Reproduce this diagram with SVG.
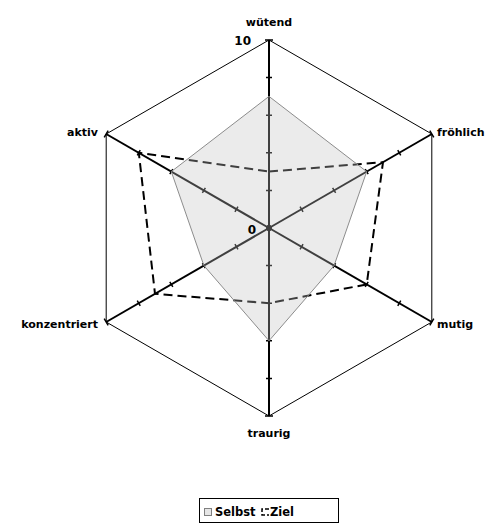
<svg xmlns="http://www.w3.org/2000/svg" width="490" height="523" viewBox="0 0 490 523">
<style>
.lbl{font-family:"DejaVu Sans","Liberation Sans",sans-serif;font-weight:bold;font-size:11px;fill:#000}
.leg{font-family:"DejaVu Sans","Liberation Sans",sans-serif;font-weight:bold;font-size:11.5px;fill:#000}
.num{font-family:"DejaVu Sans","Liberation Sans",sans-serif;font-weight:bold;font-size:12px;fill:#000}
.grid{fill:none;stroke:#000;stroke-width:1}
.ziel{fill:none;stroke:#000;stroke-width:2;stroke-dasharray:9 5}
.selbst{fill:#c2c2c2;fill-opacity:0.33;stroke:#8c8c8c;stroke-width:1}
</style>
<defs>
<g id="axisShape" stroke="#000" fill="none">
<line x1="269" y1="228" x2="269" y2="40" stroke-width="2"/>
<path d="M266,228H272M266,190.4H272M266,152.8H272M266,115.2H272M266,77.6H272M265,40H273" stroke-width="1.5"/>
</g>
</defs>
<rect width="490" height="523" fill="#fff"/>
<g id="grid">
<polygon class="grid" points="269,40 431.8,134 431.8,322 269,416 106.2,322 106.2,134"/>
</g>
<g id="connectors">
<g id="axes">
<use href="#axisShape"/>
<use href="#axisShape" transform="rotate(60 269 228)"/>
<use href="#axisShape" transform="rotate(120 269 228)"/>
<use href="#axisShape" transform="rotate(180 269 228)"/>
<use href="#axisShape" transform="rotate(240 269 228)"/>
<use href="#axisShape" transform="rotate(300 269 228)"/>
</g>
<g id="series-ziel">
<polygon class="ziel" points="269,171.6 383,162.2 366.7,284.4 269,303.2 155,293.8 138.8,152.8"/>
</g>
<g id="series-selbst">
<polygon class="selbst" points="269,96.4 366.7,171.6 334.1,265.6 269,340.8 203.9,265.6 171.3,171.6"/>
</g>
</g>
<g id="node-wuetend"><text class="lbl" x="269" y="26" text-anchor="middle">wütend</text></g>
<g id="node-froehlich"><text class="lbl" x="437" y="136">fröhlich</text></g>
<g id="node-mutig"><text class="lbl" x="437" y="328">mutig</text></g>
<g id="node-traurig"><text class="lbl" x="269" y="437" text-anchor="middle">traurig</text></g>
<g id="node-konzentriert"><text class="lbl" x="98" y="328" text-anchor="end">konzentriert</text></g>
<g id="node-aktiv"><text class="lbl" x="98" y="136" text-anchor="end">aktiv</text></g>
<g id="scale">
<text class="num" x="251" y="45" text-anchor="end">10</text>
<text class="num" x="256" y="234" text-anchor="end">0</text>
</g>
<g id="legend">
<rect x="199.5" y="498.5" width="139" height="24" fill="#fff" stroke="#000" stroke-width="1"/>
<rect x="204.5" y="508.5" width="7" height="7" fill="#e6e6e6" stroke="#808080" stroke-width="1"/>
<text class="leg" x="215" y="516">Selbst</text>
<path d="M269,509 H262 V515 H269" fill="none" stroke="#000" stroke-width="1.5" stroke-dasharray="4 2"/>
<text class="leg" x="270" y="516">Ziel</text>
</g>
</svg>
